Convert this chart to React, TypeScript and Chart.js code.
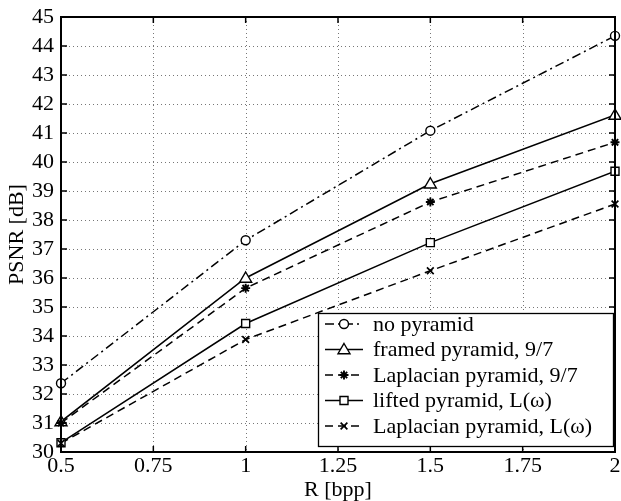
import React, { useEffect, useRef } from "react";
import { Chart, registerables } from "chart.js";

Chart.register(...registerables);

const rates = [0.5, 1, 1.5, 2];
const noPyramid = [32.37, 37.3, 41.08, 44.35];
const framed97 = [31.05, 36.0, 39.25, 41.62];
const laplacian97 = [31.0, 35.65, 38.62, 40.68];
const liftedL = [30.32, 34.43, 37.22, 39.68];
const laplacianL = [30.3, 33.88, 36.25, 38.55];

const seriesNames = [
  "no pyramid",
  "framed pyramid, 9/7",
  "Laplacian pyramid, 9/7",
  "lifted pyramid, L(\u03c9)",
  "Laplacian pyramid, L(\u03c9)",
];
const xTickLabels = ["0.5", "0.75", "1", "1.25", "1.5", "1.75", "2"];
const yTickLabels = ["30", "31", "32", "33", "34", "35", "36", "37", "38", "39", "40", "41", "42", "43", "44", "45"];

const FONT = "'Liberation Serif', 'Times New Roman', serif";
const FS = 22;

type Marker = "circle" | "triangle" | "star" | "rect" | "crossRot";
const styles: { dash: number[]; marker: Marker; r: number }[] = [
  { dash: [9, 4, 2, 4], marker: "circle", r: 4.5 },
  { dash: [], marker: "triangle", r: 6 },
  { dash: [8, 5], marker: "star", r: 4.5 },
  { dash: [], marker: "rect", r: 5 },
  { dash: [8, 5], marker: "crossRot", r: 4.5 },
];

function drawMarker(ctx: CanvasRenderingContext2D, m: Marker, x: number, y: number, r: number) {
  ctx.save();
  ctx.setLineDash([]);
  ctx.lineWidth = 1.4;
  ctx.strokeStyle = "#000";
  ctx.fillStyle = "#fff";
  ctx.beginPath();
  if (m === "circle") {
    ctx.arc(x, y, r, 0, Math.PI * 2);
    ctx.fill();
    ctx.stroke();
  } else if (m === "triangle") {
    ctx.moveTo(x, y - r);
    ctx.lineTo(x + r, y + r * 0.7);
    ctx.lineTo(x - r, y + r * 0.7);
    ctx.closePath();
    ctx.fill();
    ctx.stroke();
  } else if (m === "rect") {
    ctx.rect(x - r * 0.8, y - r * 0.8, r * 1.6, r * 1.6);
    ctx.fill();
    ctx.stroke();
  } else if (m === "star") {
    for (let k = 0; k < 4; k++) {
      const a = (k * Math.PI) / 4;
      ctx.moveTo(x - Math.cos(a) * r, y - Math.sin(a) * r);
      ctx.lineTo(x + Math.cos(a) * r, y + Math.sin(a) * r);
    }
    ctx.lineWidth = 1.9;
    ctx.stroke();
  } else {
    const d = r * 0.75;
    ctx.moveTo(x - d, y - d);
    ctx.lineTo(x + d, y + d);
    ctx.moveTo(x + d, y - d);
    ctx.lineTo(x - d, y + d);
    ctx.lineWidth = 1.7;
    ctx.stroke();
  }
  ctx.restore();
}

const gridPlugin = {
  id: "matlabGrid",
  beforeDatasetsDraw(chart: any) {
    const { ctx, chartArea: a, scales } = chart;
    ctx.save();
    ctx.strokeStyle = "#777";
    ctx.lineWidth = 1;
    ctx.setLineDash([1, 3]);
    scales.x.ticks.forEach((t: any) => {
      const px = Math.round(scales.x.getPixelForValue(t.value)) + 0.5;
      if (px <= a.left + 1 || px >= a.right - 1) return;
      ctx.beginPath();
      ctx.moveTo(px, a.top);
      ctx.lineTo(px, a.bottom);
      ctx.stroke();
    });
    scales.y.ticks.forEach((t: any) => {
      const py = Math.round(scales.y.getPixelForValue(t.value)) + 0.5;
      if (py <= a.top + 1 || py >= a.bottom - 1) return;
      ctx.beginPath();
      ctx.moveTo(a.left, py);
      ctx.lineTo(a.right, py);
      ctx.stroke();
    });
    ctx.restore();
  },
};

const framePlugin = {
  id: "matlabFrame",
  afterDraw(chart: any) {
    const { ctx, chartArea: a, scales } = chart;
    ctx.save();
    ctx.strokeStyle = "#000";
    ctx.setLineDash([]);
    ctx.lineWidth = 1.5;
    const L = 6;
    scales.x.ticks.forEach((t: any) => {
      const px = scales.x.getPixelForValue(t.value);
      ctx.beginPath();
      ctx.moveTo(px, a.bottom);
      ctx.lineTo(px, a.bottom - L);
      ctx.moveTo(px, a.top);
      ctx.lineTo(px, a.top + L);
      ctx.stroke();
    });
    scales.y.ticks.forEach((t: any) => {
      const py = scales.y.getPixelForValue(t.value);
      ctx.beginPath();
      ctx.moveTo(a.left, py);
      ctx.lineTo(a.left + L, py);
      ctx.moveTo(a.right, py);
      ctx.lineTo(a.right - L, py);
      ctx.stroke();
    });
    ctx.lineWidth = 2;
    ctx.strokeRect(a.left, a.top, a.right - a.left, a.bottom - a.top);

    // legend
    const right = a.right - 2;
    const bottom = a.bottom - 6;
    const left = right - 295;
    const top = bottom - 133;
    ctx.fillStyle = "#fff";
    ctx.fillRect(left, top, right - left, bottom - top);
    ctx.lineWidth = 1.3;
    ctx.strokeRect(left + 0.5, top + 0.5, right - left, bottom - top);
    ctx.font = `${FS}px ${FONT}`;
    ctx.textBaseline = "middle";
    ctx.textAlign = "left";
    seriesNames.forEach((name, i) => {
      const y = top + 11 + i * 25.5;
      const st = styles[i];
      ctx.save();
      ctx.strokeStyle = "#000";
      ctx.lineWidth = 1.5;
      ctx.setLineDash(st.dash);
      ctx.beginPath();
      ctx.moveTo(left + 7, y);
      ctx.lineTo(left + 45, y);
      ctx.stroke();
      ctx.restore();
      drawMarker(ctx, st.marker, left + 26, y, st.r);
      ctx.fillStyle = "#000";
      ctx.fillText(name, left + 55, y + 1);
    });
    ctx.restore();
  },
};

const markerPlugin = {
  id: "matlabMarkers",
  afterDatasetsDraw(chart: any) {
    const { ctx } = chart;
    chart.data.datasets.forEach((ds: any, i: number) => {
      const meta = chart.getDatasetMeta(i);
      meta.data.forEach((pt: any) => {
        drawMarker(ctx, styles[i].marker, pt.x, pt.y, styles[i].r);
      });
    });
  },
};

const seriesValues = [noPyramid, framed97, laplacian97, liftedL, laplacianL];

export default function App() {
  const ref = useRef<HTMLCanvasElement | null>(null);
  useEffect(() => {
    document.body.style.margin = "0";
    const canvas = ref.current!;
    const chart = new Chart(canvas, {
      type: "line",
      data: {
        datasets: seriesValues.map((vals, i) => ({
          label: seriesNames[i],
          data: rates.map((x, k) => ({ x, y: vals[k] })),
          borderColor: "#000",
          borderWidth: 1.5,
          borderDash: styles[i].dash,
          pointRadius: 0,
          fill: false,
          tension: 0,
        })),
      },
      options: {
        responsive: false,
        animation: false,
        layout: { padding: { top: 17, right: 6, left: 0, bottom: 0 } },
        plugins: {
          legend: { display: false },
          tooltip: { enabled: false },
        },
        scales: {
          x: {
            type: "linear",
            min: 0.5,
            max: 2,
            ticks: {
              stepSize: 0.25,
              color: "#000",
              font: { family: FONT, size: FS },
              padding: 1,
              maxRotation: 0,
              autoSkip: false,
              callback: (v: any, idx: number) => xTickLabels[idx] ?? String(v),
            },
            grid: { display: false, drawTicks: false },
            border: { display: false },
            title: {
              display: true,
              text: "R [bpp]",
              color: "#000",
              font: { family: FONT, size: FS },
              padding: { top: 0, bottom: -2 },
            },
            afterFit: (s: any) => {
              s.height = 49;
              s.paddingLeft = 0;
              s.paddingRight = 0;
            },
          },
          y: {
            type: "linear",
            min: 30,
            max: 45,
            ticks: {
              stepSize: 1,
              color: "#000",
              font: { family: FONT, size: FS },
              padding: 7,
              autoSkip: false,
              callback: (v: any, idx: number) => yTickLabels[idx] ?? String(v),
            },
            grid: { display: false, drawTicks: false },
            border: { display: false },
            title: {
              display: true,
              text: "PSNR [dB]",
              color: "#000",
              font: { family: FONT, size: FS },
              padding: { top: 4, bottom: 0 },
            },
            afterFit: (s: any) => {
              s.width = 61;
              s.paddingTop = 0;
              s.paddingBottom = 0;
            },
          },
        },
      },
      plugins: [gridPlugin, markerPlugin, framePlugin],
    });
    return () => chart.destroy();
  }, []);
  return (
    <div style={{ position: "absolute", left: 0, top: 0, width: 621, height: 501, background: "#fff" }}>
      <canvas ref={ref} width={621} height={501} style={{ width: 621, height: 501 }} />
    </div>
  );
}
